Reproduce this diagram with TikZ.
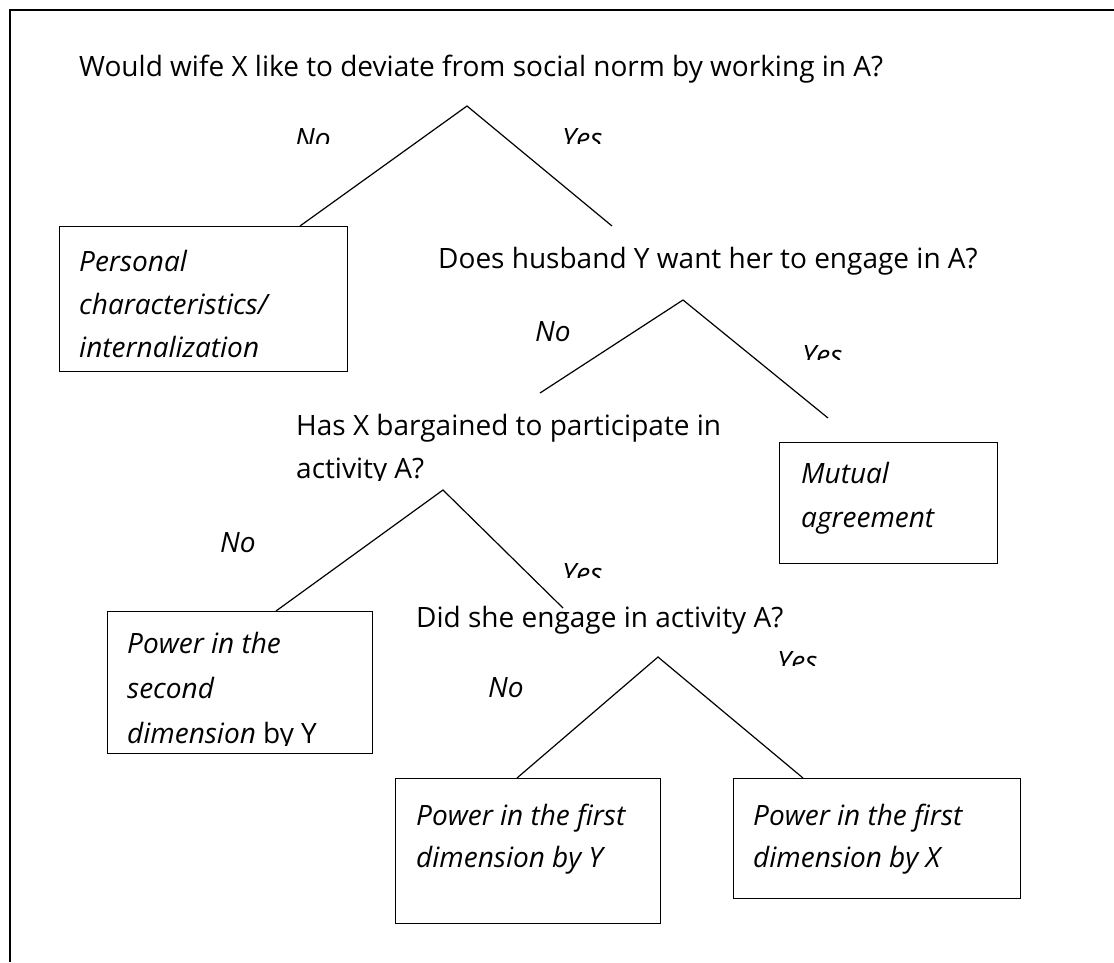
\documentclass[tikz,border=0pt]{standalone}
\usepackage{fontspec}
\setmainfont{Open Sans}
\begin{document}
\begin{tikzpicture}[x=1pt,y=-1pt,
  txt/.style={inner sep=0pt,anchor=base west,font=\fontsize{28}{28}\selectfont},
  lab/.style={txt,font=\fontsize{28}{28}\selectfont\itshape},
  box/.style={draw,line width=1.2pt,anchor=north west,inner sep=0pt},
  conn/.style={line width=1.2pt}]
\useasboundingbox (0,0) rectangle (1114,962);
% frame
\draw[line width=1.6pt] (10,962) -- (10,10) -- (1114,10);
% questions
\node[txt] (q1) at (79,76) {Would wife X like to deviate from social norm by working in A?};
\node[txt] (q2) at (438,268) {Does husband Y want her to engage in A?};
\node[txt] (q3a) at (296,435) {Has X bargained to participate in};
\begin{scope}
\clip (0,0) rectangle (1114,480);
\node[txt] (q3b) at (296,478) {activity A?};
\end{scope}
\node[txt] (q4) at (416,627) {Did she engage in activity A?};
% boxes
\node[box,minimum width=288,minimum height=145] (b1) at (59,226) {};
\node[box,minimum width=218,minimum height=121] (b2) at (779,442) {};
\node[box,minimum width=265,minimum height=142] (b3) at (107,611) {};
\node[box,minimum width=265,minimum height=145] (b4) at (395,778) {};
\node[box,minimum width=287,minimum height=120] (b5) at (733,778) {};
% box texts
\node[lab] (t1a) at (79,271) {Personal};
\node[lab] (t1b) at (79,314) {characteristics/};
\node[lab] (t1c) at (79,357) {internalization};
\node[lab] (t2a) at (801,483) {Mutual};
\node[lab] (t2b) at (801,527) {agreement};
\node[lab] (t3a) at (127,653) {Power in the};
\node[lab] (t3b) at (127,698) {second};
\begin{scope}
\clip (0,0) rectangle (1114,745);
\node[txt] (t3c) at (127,743) {\textit{dimension} by Y};
\end{scope}
\node[lab] (t4a) at (416,825) {Power in the first};
\node[lab] (t4b) at (416,867) {dimension by Y};
\node[lab] (t5a) at (753,825) {Power in the first};
\node[lab] (t5b) at (753,867) {dimension by X};
% yes/no labels
\begin{scope}
\clip (0,0) rectangle (1114,143);
\node[lab] (n1) at (295,148) {No};
\node[lab] (y1) at (562,148) {Yes};
\end{scope}
\node[lab] (n2) at (535,341) {No};
\begin{scope}
\clip (0,0) rectangle (1114,359);
\node[lab] (y2) at (802,365) {Yes};
\end{scope}
\node[lab] (n3) at (220,552) {No};
\begin{scope}
\clip (0,0) rectangle (1114,577);
\node[lab] (y3) at (562,583) {Yes};
\end{scope}
\node[lab] (n4) at (488,697) {No};
\begin{scope}
\clip (0,0) rectangle (1114,665);
\node[lab] (y4) at (777,671) {Yes};
\end{scope}
% apexes and ends
\coordinate (a1) at (467,106);
\coordinate (e1l) at (300,226);
\coordinate (e1r) at (612,226);
\coordinate (a2) at (683,300);
\coordinate (e2l) at (540,393);
\coordinate (e2r) at (828,418);
\coordinate (a3) at (443,490);
\coordinate (e3l) at (276,611);
\coordinate (e3r) at (563,608);
\coordinate (a4) at (658,657);
\coordinate (e4l) at (517,778);
\coordinate (e4r) at (803,778);
\draw[conn] (e1l) -- (a1) -- (e1r);
\draw[conn] (e2l) -- (a2) -- (e2r);
\draw[conn] (e3l) -- (a3) -- (e3r);
\draw[conn] (e4l) -- (a4) -- (e4r);
\end{tikzpicture}
\end{document}
